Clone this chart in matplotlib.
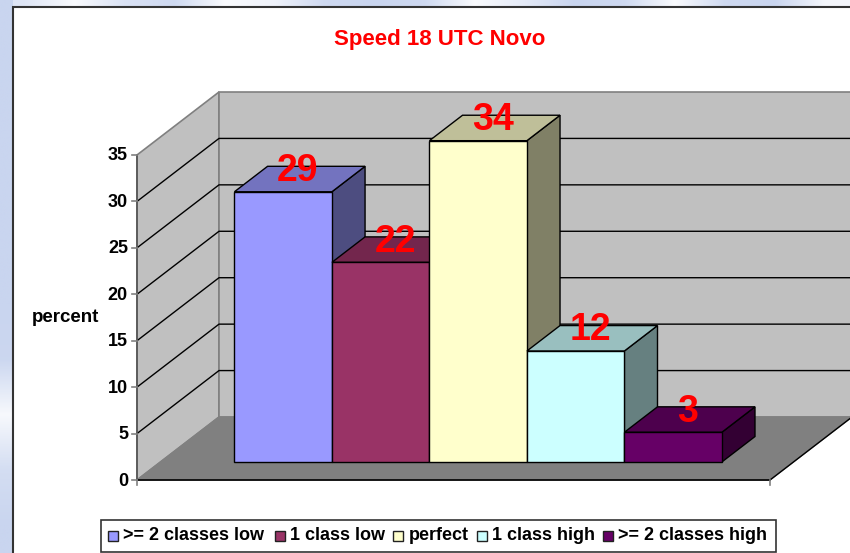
#!/usr/bin/env python

import matplotlib
matplotlib.use("Agg")
import matplotlib.pyplot as plt
from matplotlib.colors import to_rgb
from matplotlib.patches import Polygon, Rectangle
import numpy as np

series = [">= 2 classes low", "1 class low", "perfect", "1 class high", ">= 2 classes high"]
heights = [29.1, 21.5, 34.6, 11.95, 3.2]
labels = ["29", "22", "34", "12", "3"]
colors = ["#9999ff", "#993366", "#ffffcc", "#ccffff", "#660066"]
yticks = [0, 5, 10, 15, 20, 25, 30, 35]

# pixel layout of the fake 3d box
X0, Y0 = 137, 480
FLOOR_W = 633
UNIT = 9.286
DX, DY = 82, 63
BAR_LEFT = 0.1169
BAR_W = 0.1540
D0, D1 = 0.286, 0.69


def proj(x, v, d):
    return (X0 + x * FLOOR_W + d * DX, Y0 - v * UNIT - d * DY)


def shade(c, f):
    return tuple(f * a for a in to_rgb(c))


def main():
    fig = plt.figure(figsize=(8.5, 5.53), dpi=100)
    ax = fig.add_axes([0, 0, 1, 1])
    ax.axis("off")

    # blue slide background, only the strips on the top and left show
    top = np.array([0.4, 0.9, 0.3, 0.1, 0.9, 0.7, 0.1, 0.0, 0.1, 0.9, 0.5, 0.0, 0.1, 0.9, 0.1, 0.0, 0.8])
    side = np.array([0.0, 0.0, 0.0, 0.0, 0.0, 0.0, 0.05, 0.85, 0.2, 0.0])
    base = np.array(to_rgb("#c9d5ef"))
    strip = base + (1 - base) * top[:, None]
    ax.imshow(strip[None, :, :], extent=(0, 850, 7, 0), aspect="auto", interpolation="bilinear", zorder=0)
    strip = base + (1 - base) * side[:, None]
    ax.imshow(strip[:, None, :], extent=(0, 13, 553, 0), aspect="auto", interpolation="bilinear", zorder=0)
    ax.set_xlim(0, 850)
    ax.set_ylim(553, 0)

    # chart area
    ax.add_patch(Rectangle((13, 7), 860, 570, fc="white", ec="#333333", lw=1.5, zorder=1))

    vmax = yticks[-1]

    # walls and floor
    ax.add_patch(Polygon([proj(0, 0, 0), proj(0, 0, 1), proj(0, vmax, 1), proj(0, vmax, 0)],
                         fc="#c0c0c0", ec="#808080", lw=1.2, zorder=2))
    ax.add_patch(Polygon([proj(0, 0, 1), proj(1, 0, 1), proj(1, vmax, 1), proj(0, vmax, 1)],
                         fc="#c0c0c0", ec="#808080", lw=1.2, zorder=2))
    ax.add_patch(Polygon([proj(0, 0, 0), proj(1, 0, 0), proj(1, 0, 1), proj(0, 0, 1)],
                         fc="#808080", ec="#808080", lw=1, zorder=3))

    # gridlines
    for v in yticks[1:-1]:
        p = [proj(0, v, 0), proj(0, v, 1), proj(1, v, 1)]
        ax.plot([q[0] for q in p], [q[1] for q in p], color="black", lw=1, zorder=3)

    # axes and ticks
    ax.plot(*zip(proj(0, 0, 0), proj(0, vmax, 0)), color="#555555", lw=1.2, zorder=4)
    ax.plot(*zip(proj(0, 0, 0), proj(1, 0, 0)), color="black", lw=1.2, zorder=4)
    ax.plot(*zip(proj(1, 0, 0), proj(1, 0, 1)), color="black", lw=1, zorder=4)
    for x in (0, 1):
        px, py = proj(x, 0, 0)
        ax.plot([px, px], [py, py + 5], color="#808080", lw=1.2, zorder=4)
    for v in yticks:
        px, py = proj(0, v, 0)
        ax.plot([px - 5, px], [py, py], color="#808080", lw=1.2, zorder=4)
        ax.text(px - 9, py + 1, str(v), ha="right", va="center", fontsize=13, fontweight="bold", zorder=6)

    # bars
    for i, h in enumerate(heights):
        l = BAR_LEFT + i * BAR_W
        r = l + BAR_W
        c = colors[i]
        z = 5
        ax.add_patch(Polygon([proj(r, 0, D0), proj(r, 0, D1), proj(r, h, D1), proj(r, h, D0)],
                             fc=shade(c, 0.5), ec="black", lw=1, zorder=z))
        ax.add_patch(Polygon([proj(l, h, D0), proj(r, h, D0), proj(r, h, D1), proj(l, h, D1)],
                             fc=shade(c, 0.75), ec="black", lw=1, zorder=z))
        ax.add_patch(Polygon([proj(l, 0, D0), proj(r, 0, D0), proj(r, h, D0), proj(l, h, D0)],
                             fc=c, ec="black", lw=1, zorder=z))

    # data labels go on top of all the bars
    for i, h in enumerate(heights):
        px, py = proj(BAR_LEFT + (i + 0.5) * BAR_W, h, (D0 + D1) / 2)
        ax.text(px - 2, py - 8, labels[i], color="#ff0000", ha="center", va="center",
                fontsize=27, fontweight="bold", zorder=7)

    ax.text(440, 40, "Speed 18 UTC Novo", color="#ff0000", ha="center", va="center",
            fontsize=16, fontweight="bold", zorder=6)
    ax.text(66, 318, "percent", ha="center", va="center", fontsize=13.5, fontweight="bold", zorder=6)

    # legend box, laid out by hand like the original
    ax.add_patch(Rectangle((101, 520), 675, 32, fc="white", ec="#333333", lw=1.2, zorder=6))
    key_x = [108, 275, 393, 477, 603]
    for kx, name, c in zip(key_x, series, colors):
        ax.add_patch(Rectangle((kx, 531), 10, 10, fc=c, ec="#222222", lw=1, zorder=7))
        ax.text(kx + 15.5, 536, name, va="center", ha="left", fontsize=13, fontweight="bold", zorder=7)

    fig.savefig("out.png", dpi=100)


if __name__ == "__main__":
    plt.rcParams["font.family"] = ["Liberation Sans", "DejaVu Sans"]
    main()
